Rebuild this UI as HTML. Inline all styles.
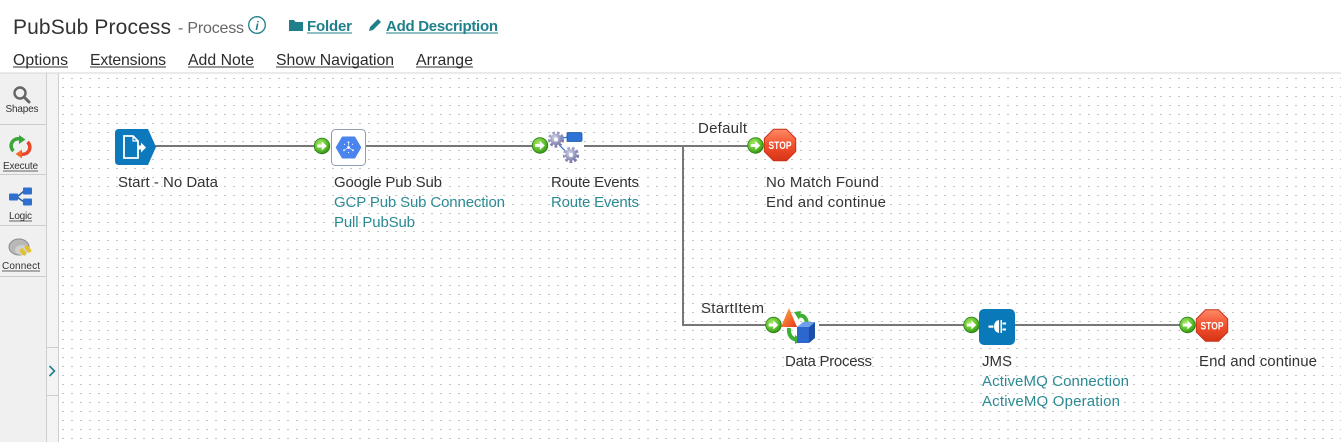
<!DOCTYPE html>
<html>
<head>
<meta charset="utf-8">
<style>
  html,body{margin:0;padding:0;background:#fff;}
  body{width:1341px;height:442px;overflow:hidden;position:relative;font-family:"Liberation Sans",sans-serif;}
  svg{position:absolute;left:0;top:0;}
  text{font-family:"Liberation Sans",sans-serif;}
</style>
</head>
<body>
<svg width="1341" height="442" viewBox="0 0 1341 442" xmlns="http://www.w3.org/2000/svg">
  <defs>
    <pattern id="grid" x="62" y="78" width="9" height="9" patternUnits="userSpaceOnUse">
      <rect x="0" y="0" width="2" height="1" fill="#c4c4c4"/>
    </pattern>
    <radialGradient id="gGreen" cx="40%" cy="35%" r="70%">
      <stop offset="0" stop-color="#a8e866"/>
      <stop offset="0.6" stop-color="#5cbf2c"/>
      <stop offset="1" stop-color="#2f8a14"/>
    </radialGradient>
    <linearGradient id="gStop" x1="0" y1="0" x2="0" y2="1">
      <stop offset="0" stop-color="#ff8a66"/>
      <stop offset="0.5" stop-color="#f2502e"/>
      <stop offset="1" stop-color="#d63516"/>
    </linearGradient>
    <radialGradient id="gGear" cx="40%" cy="35%" r="70%">
      <stop offset="0" stop-color="#d8d8f0"/>
      <stop offset="1" stop-color="#7a7aa8"/>
    </radialGradient>
    <linearGradient id="gTri" x1="0" y1="0" x2="1" y2="1">
      <stop offset="0" stop-color="#ffb347"/>
      <stop offset="1" stop-color="#e8341a"/>
    </linearGradient>
    <g id="conn">
      <circle cx="0" cy="0" r="7.8" fill="url(#gGreen)" stroke="#2e7d16" stroke-width="0.8"/>
      <path d="M-4.8,-1.5 H-0.2 V-4.5 L4.8,0 L-0.2,4.5 V1.5 H-4.8 Z" fill="#fff"/>
    </g>
    <g id="stop">
      <polygon points="15.7,6.5 6.5,15.7 -6.5,15.7 -15.7,6.5 -15.7,-6.5 -6.5,-15.7 6.5,-15.7 15.7,-6.5" fill="url(#gStop)" stroke="#c8301a" stroke-width="1"/>
      <text x="0" y="4" text-anchor="middle" font-size="11" font-weight="bold" fill="#fff" textLength="23" lengthAdjust="spacingAndGlyphs">STOP</text>
    </g>
    <g id="gear">
      <circle cx="0" cy="0" r="6.4" fill="none" stroke="url(#gGear)" stroke-width="3.4" stroke-dasharray="2.6 1.8"/>
      <circle cx="0" cy="0" r="5.6" fill="url(#gGear)"/>
      <circle cx="0" cy="0" r="2" fill="#fff"/>
    </g>
  </defs>

  <!-- Header -->
  <text x="13" y="34" font-size="21" fill="#333" textLength="158">PubSub Process</text>
  <text x="178" y="33" font-size="16" fill="#666" textLength="66">- Process</text>
  <circle cx="257" cy="25" r="8.3" fill="none" stroke="#1f7f8a" stroke-width="1.3"/>
  <text x="257" y="30" font-size="12" font-family="Liberation Serif" font-style="italic" font-weight="bold" fill="#1f7f8a" text-anchor="middle">i</text>
  <!-- folder icon -->
  <path d="M289,20 h5 l1.5,2 h7.5 v9 h-14 z" fill="#1f7f8a"/>
  <text x="307" y="31" font-size="15" font-weight="bold" fill="#1f7f8a" textLength="45">Folder</text>
  <line x1="307" y1="33" x2="352" y2="33" stroke="#1f7f8a" stroke-width="1"/>
  <!-- pencil -->
  <path d="M369,31 l1,-4 l8,-8 l3,3 l-8,8 z" fill="#1f7f8a"/>
  <text x="386" y="31" font-size="15" font-weight="bold" fill="#1f7f8a" textLength="112">Add Description</text>
  <line x1="386" y1="33" x2="498" y2="33" stroke="#1f7f8a" stroke-width="1"/>

  <!-- Menu -->
  <g font-size="15.8" fill="#2b2b2b">
    <text x="13" y="65" textLength="55">Options</text>
    <text x="90" y="65" textLength="76">Extensions</text>
    <text x="188" y="65" textLength="66">Add Note</text>
    <text x="276" y="65" textLength="118">Show Navigation</text>
    <text x="416" y="65" textLength="57">Arrange</text>
  </g>
  <g stroke="#333" stroke-width="1">
    <line x1="13" y1="67" x2="68" y2="67"/>
    <line x1="90" y1="67" x2="166" y2="67"/>
    <line x1="188" y1="67" x2="254" y2="67"/>
    <line x1="276" y1="67" x2="394" y2="67"/>
    <line x1="416" y1="67" x2="473" y2="67"/>
  </g>

  <!-- top border -->
  <rect x="0" y="72.5" width="1341" height="1" fill="#d6d6d6"/>

  <!-- Sidebar -->
  <rect x="0" y="73.5" width="46" height="369" fill="#f0f0f0"/>
  <rect x="46.5" y="73.5" width="12" height="369" fill="#f4f4f4"/>
  <line x1="46.5" y1="73.5" x2="46.5" y2="442" stroke="#cfcfcf"/>
  <line x1="58.5" y1="73.5" x2="58.5" y2="442" stroke="#cfcfcf"/>
  <g stroke="#cccccc" stroke-width="1">
    <line x1="0" y1="124.5" x2="46" y2="124.5"/>
    <line x1="0" y1="174.5" x2="46" y2="174.5"/>
    <line x1="0" y1="225.5" x2="46" y2="225.5"/>
    <line x1="0" y1="276.5" x2="46" y2="276.5"/>
    <line x1="47" y1="347.5" x2="58" y2="347.5"/>
    <line x1="47" y1="395.5" x2="58" y2="395.5"/>
  </g>
  <polyline points="49.5,366 54.5,371 49.5,376" fill="none" stroke="#1f7f8a" stroke-width="1.6"/>

  <!-- Shapes icon -->
  <circle cx="20" cy="93" r="5.5" fill="none" stroke="#666" stroke-width="2.4"/>
  <line x1="24" y1="97" x2="29" y2="102" stroke="#666" stroke-width="3" stroke-linecap="round"/>
  <text x="22" y="112" font-size="10" fill="#333" text-anchor="middle" textLength="33">Shapes</text>
  <!-- Execute icon -->
  <path d="M13.5,151 A7,7 0 0 1 20,139" fill="none" stroke="#3aa63a" stroke-width="3.5"/>
  <polygon points="19,135 25.5,139.5 19,144" fill="#3aa63a"/>
  <path d="M27.5,142 A7,7 0 0 1 21,154" fill="none" stroke="#e8472a" stroke-width="3.5"/>
  <polygon points="22,149.5 15.5,154 22,158.5" fill="#f06a2a"/>
  <text x="20.5" y="169" font-size="10" fill="#333" text-anchor="middle" textLength="35">Execute</text>
  <line x1="3" y1="171" x2="38" y2="171" stroke="#333" stroke-width="0.8"/>
  <!-- Logic icon -->
  <path d="M17,197 L24,191 M17,197 L24,202" stroke="#2a5fb0" stroke-width="1.5" fill="none"/>
  <rect x="9" y="193.5" width="9" height="7" rx="1" fill="#2f6fd0"/>
  <rect x="23" y="187.5" width="9" height="7" rx="1" fill="#2f6fd0"/>
  <rect x="23" y="198.5" width="9" height="7" rx="1" fill="#2f6fd0"/>
  <text x="20.5" y="219" font-size="10" fill="#333" text-anchor="middle" textLength="23">Logic</text>
  <line x1="9" y1="221" x2="32" y2="221" stroke="#333" stroke-width="0.8"/>
  <!-- Connect icon -->
  <ellipse cx="19" cy="247" rx="10" ry="8" fill="#b8b8b8" stroke="#8a8a8a" stroke-width="1"/>
  <ellipse cx="22" cy="250" rx="7" ry="5" fill="#d0d0d0"/>
  <rect x="21" y="248" width="4" height="8" rx="2" fill="#e2c22a" transform="rotate(-40 23 252)"/>
  <rect x="26" y="245" width="4" height="8" rx="2" fill="#e2c22a" transform="rotate(-40 28 249)"/>
  <text x="21" y="269" font-size="10" fill="#333" text-anchor="middle" textLength="38">Connect</text>
  <line x1="2" y1="271" x2="40" y2="271" stroke="#333" stroke-width="0.8"/>

  <!-- Canvas grid -->
  <rect x="59" y="73.5" width="1282" height="369" fill="url(#grid)"/>

  <!-- Connectors -->
  <g stroke="#777" stroke-width="2" fill="none">
    <line x1="155" y1="146" x2="316" y2="146"/>
    <line x1="366" y1="146" x2="533" y2="146"/>
    <line x1="584" y1="146" x2="749" y2="146"/>
    <polyline points="683,146 683,325 767,325"/>
    <line x1="819" y1="325" x2="965" y2="325"/>
    <line x1="1015" y1="325" x2="1181" y2="325"/>
  </g>

  <!-- Start node -->
  <path d="M119,129 H148 L156,147 L148,165 H119 Q115,165 115,161 V133 Q115,129 119,129 Z" fill="#0b79bb"/>
  <path d="M124,136 H133 L138,141 V158 H124 Z" fill="none" stroke="#fff" stroke-width="1.8"/>
  <path d="M133,136 V141 H138" fill="none" stroke="#fff" stroke-width="1.2"/>
  <path d="M138,145.5 H141 V142.5 L146,147.5 L141,152.5 V149.5 H138 Z" fill="#fff"/>

  <!-- Google Pub Sub -->
  <use href="#conn" x="322" y="146"/>
  <rect x="331.5" y="129.5" width="34" height="36" rx="4" fill="#fff" stroke="#8d9db3" stroke-width="1"/>
  <polygon points="336.5,147.5 342.5,137.3 354.5,137.3 360.5,147.5 354.5,157.7 342.5,157.7" fill="#4a84ee" stroke="#4a84ee" stroke-width="1.5" stroke-linejoin="round"/>
  <g fill="#fff">
    <circle cx="348.5" cy="147.5" r="1.4"/>
    <circle cx="348.5" cy="142.3" r="0.9"/>
    <circle cx="344" cy="150.3" r="0.9"/>
    <circle cx="353" cy="150.3" r="0.9"/>
    <circle cx="344.5" cy="144.3" r="0.6"/>
    <circle cx="352.5" cy="144.3" r="0.6"/>
    <circle cx="348.5" cy="152.5" r="0.6"/>
  </g>
  <g stroke="#fff" stroke-width="0.6">
    <line x1="348.5" y1="147.5" x2="348.5" y2="142.3"/>
    <line x1="348.5" y1="147.5" x2="344" y2="150.3"/>
    <line x1="348.5" y1="147.5" x2="353" y2="150.3"/>
  </g>

  <!-- Route Events -->
  <use href="#conn" x="540" y="145.5"/>
  <path d="M556,140 Q560,147 569,154 M558,139 L568,137" stroke="#2d6fd0" stroke-width="1.2" fill="none"/>
  <use href="#gear" x="556" y="139.5"/>
  <use href="#gear" x="571" y="155"/>
  <rect x="567" y="132.5" width="15" height="9" rx="1.5" fill="#2f72d6" stroke="#1d55a8" stroke-width="0.8"/>

  <!-- Default stop -->
  <text x="698" y="133" font-size="15" fill="#333" textLength="49">Default</text>
  <use href="#conn" x="755.5" y="145.5"/>
  <use href="#stop" x="780" y="145"/>

  <!-- StartItem / Data Process -->
  <text x="701" y="313" font-size="15" fill="#333" textLength="63">StartItem</text>
  <use href="#conn" x="773.5" y="325"/>
  <polygon points="789,308 797,327 781,327" fill="url(#gTri)"/>
  <path d="M798,316 Q806,314 807,324" fill="none" stroke="#3cb034" stroke-width="4"/>
  <polygon points="794,312 801,311 799,320" fill="#3cb034"/>
  <path d="M789,328 Q788,338 797,340" fill="none" stroke="#3cb034" stroke-width="4"/>
  <polygon points="795,335 802,340 795,344" fill="#3cb034"/>
  <polygon points="797,327 803,322 815,322 809,327" fill="#6fa0f0"/>
  <polygon points="809,327 815,322 815,338 809,343" fill="#1b4fa8"/>
  <rect x="797" y="327" width="12" height="16" fill="#2d66cf"/>

  <!-- JMS -->
  <use href="#conn" x="971.5" y="325"/>
  <rect x="979" y="309" width="36" height="36" rx="5" fill="#0a79b9"/>
  <rect x="988.5" y="325.5" width="5" height="2.2" fill="#fff"/>
  <path d="M999,320 V333 Q994,332 994,326.5 Q994,321 999,320 Z" fill="#fff"/>
  <rect x="1000.5" y="320" width="1.5" height="13" fill="#fff"/>
  <rect x="1002.5" y="322.5" width="3.5" height="2" fill="#fff"/>
  <rect x="1002.5" y="328.5" width="3.5" height="2" fill="#fff"/>

  <!-- End stop -->
  <use href="#conn" x="1187.5" y="325"/>
  <use href="#stop" x="1212" y="325.5"/>

  <!-- Labels -->
  <g font-size="15" fill="#333">
    <text x="118" y="187" textLength="100">Start - No Data</text>
    <text x="334" y="187" textLength="108">Google Pub Sub</text>
    <text x="551" y="187" textLength="88">Route Events</text>
    <text x="766" y="187" textLength="113">No Match Found</text>
    <text x="766" y="207" textLength="120">End and continue</text>
    <text x="785" y="366" textLength="87">Data Process</text>
    <text x="982" y="366">JMS</text>
    <text x="1199" y="366" textLength="118">End and continue</text>
  </g>
  <g font-size="15" fill="#2b8a94">
    <text x="334" y="207" textLength="171">GCP Pub Sub Connection</text>
    <text x="334" y="227" textLength="81">Pull PubSub</text>
    <text x="551" y="207" textLength="88">Route Events</text>
    <text x="982" y="386" textLength="147">ActiveMQ Connection</text>
    <text x="982" y="406" textLength="138">ActiveMQ Operation</text>
  </g>
</svg>
</body>
</html>
